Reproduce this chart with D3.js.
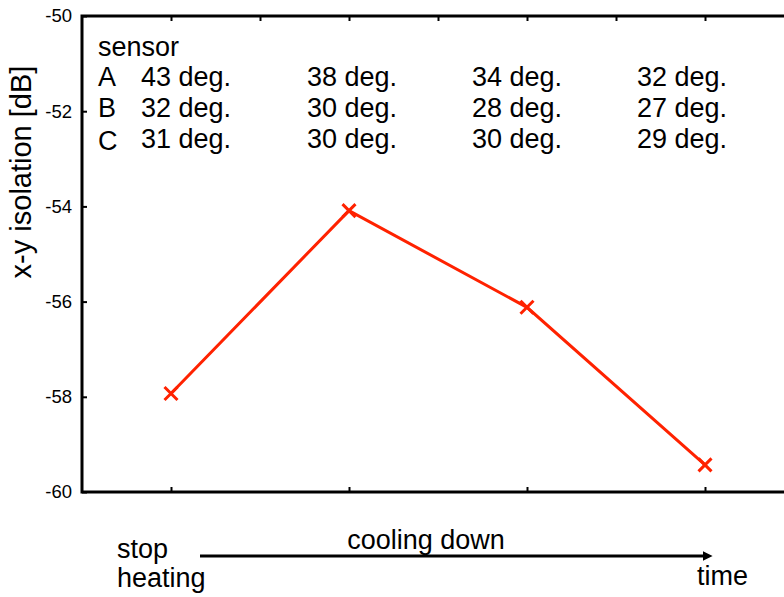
<!DOCTYPE html>
<html>
<head>
<meta charset="utf-8">
<script src="https://cdn.jsdelivr.net/npm/d3@7"></script>
<style>
  html, body { margin: 0; padding: 0; background: #fff; }
  svg { display: block; font-family: "Liberation Sans", Arial, Helvetica, sans-serif; }
</style>
</head>
<body>
<svg id="chart" width="784" height="597"></svg>
<script>
// ---- data ----
const steps = [1, 2, 3, 4];
const isolation = [-57.93, -54.09, -56.12, -59.43];
const yTicks = [-50, -52, -54, -56, -58, -60];
const sensors = ["A", "B", "C"];
const sensorA = ["43 deg.", "38 deg.", "34 deg.", "32 deg."];
const sensorB = ["32 deg.", "30 deg.", "28 deg.", "27 deg."];
const sensorC = ["31 deg.", "30 deg.", "30 deg.", "29 deg."];
const yTitle = "x-y isolation [dB]";

const svg = d3.select("#chart");
const pL = 82, pR = 794, pT = 16, pB = 492;
const x = d3.scaleLinear().domain([0.5, 4.5]).range([pL, pR]);
const y = d3.scaleLinear().domain([-60, -50]).range([pB, pT]);
const FS = 27;

// frame
svg.append("rect").attr("x", pL).attr("y", pT)
  .attr("width", pR - pL).attr("height", pB - pT)
  .attr("fill", "none").attr("stroke", "#000").attr("stroke-width", 3);

// left axis: inward ticks
const yAxis = d3.axisRight(y).tickValues(yTicks).tickSize(5).tickFormat("");
svg.append("g").attr("transform", `translate(${pL},0)`).call(yAxis)
  .call(g => g.select(".domain").remove())
  .call(g => g.selectAll("line").attr("stroke-width", 2));
svg.append("g").selectAll("text").data(yTicks).join("text")
  .attr("x", pL - 10).attr("y", d => y(d)).attr("dy", "0.35em")
  .attr("text-anchor", "end").attr("font-size", 18.5)
  .text(d => String(d));

// top axis: inward ticks every half step
const topTicks = d3.range(1, 4.01, 0.5);
svg.append("g").attr("transform", `translate(0,${pT})`)
  .call(d3.axisBottom(x).tickValues(topTicks).tickSize(5).tickFormat(""))
  .call(g => g.select(".domain").remove())
  .call(g => g.selectAll("line").attr("stroke-width", 2));

// bottom axis: inward ticks at steps
svg.append("g").attr("transform", `translate(0,${pB})`)
  .call(d3.axisTop(x).tickValues(steps).tickSize(5).tickFormat(""))
  .call(g => g.select(".domain").remove())
  .call(g => g.selectAll("line").attr("stroke-width", 2));

// y title
svg.append("text")
  .attr("transform", `translate(31,172) rotate(-90)`)
  .attr("text-anchor", "middle").attr("font-size", 29)
  .text(yTitle);

// sensor table
const colX = [141, 307, 472, 637];
const rows = [sensorA, sensorB, sensorC];
const rowY = [86, 117, 148];
svg.append("text").attr("x", 98).attr("y", 56).attr("font-size", FS).text("sensor");
rows.forEach((r, i) => {
  svg.append("text").attr("x", 98).attr("y", rowY[i] + (i === 2 ? 2 : 0)).attr("font-size", FS).text(sensors[i]);
  r.forEach((t, j) => {
    svg.append("text").attr("x", colX[j]).attr("y", rowY[i]).attr("font-size", FS).text(t);
  });
});

// line
const red = "#ff2200";
const pts = steps.map((s, i) => [s, isolation[i]]);
svg.append("path").datum(pts)
  .attr("fill", "none").attr("stroke", red).attr("stroke-width", 3)
  .attr("d", d3.line().x(d => x(d[0])).y(d => y(d[1])));
const m = 6.5;
svg.append("g").selectAll("path").data(pts).join("path")
  .attr("d", d => {
    const cx = x(d[0]), cy = y(d[1]);
    return `M${cx-m},${cy-m}L${cx+m},${cy+m}M${cx-m},${cy+m}L${cx+m},${cy-m}`;
  })
  .attr("stroke", red).attr("stroke-width", 3).attr("fill", "none");

// bottom annotation
svg.append("defs").append("marker").attr("id", "ah")
  .attr("viewBox", "0 0 10 10").attr("refX", 0).attr("refY", 5)
  .attr("markerWidth", 4.5).attr("markerHeight", 3.2).attr("markerUnits", "strokeWidth")
  .attr("orient", "auto")
  .append("path").attr("d", "M0,0L10,5L0,10z").attr("fill", "#000");
svg.append("line").attr("x1", 200).attr("x2", 703).attr("y1", 556).attr("y2", 556)
  .attr("stroke", "#000").attr("stroke-width", 3).attr("marker-end", "url(#ah)");
svg.append("text").attr("x", 117).attr("y", 558).attr("font-size", FS).text("stop");
svg.append("text").attr("x", 117).attr("y", 587).attr("font-size", FS).text("heating");
svg.append("text").attr("x", 426).attr("y", 549).attr("font-size", FS).attr("text-anchor", "middle").text("cooling down");
svg.append("text").attr("x", 697).attr("y", 585).attr("font-size", FS).text("time");
</script>
</body>
</html>
